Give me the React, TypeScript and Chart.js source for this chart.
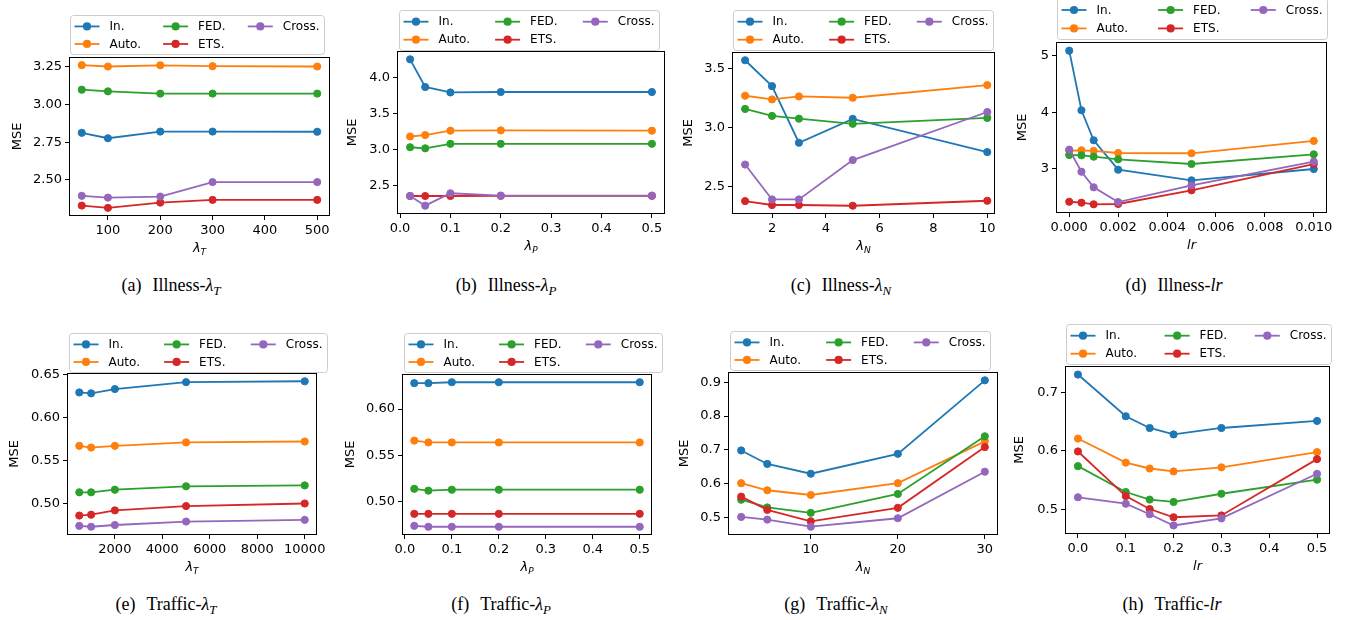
import React, { useEffect, useRef } from "react";
import { Chart, registerables } from "chart.js";

Chart.register(...registerables);
Chart.defaults.font.family = '"DejaVu Sans", sans-serif';
Chart.defaults.font.size = 13;
Chart.defaults.color = "#000";

// ---------- shared ----------
const SERIES_NAMES = ["In.", "Auto.", "FED.", "ETS.", "Cross."];
const SERIES_COLORS = ["#1f77b4", "#ff7f0e", "#2ca02c", "#d62728", "#9467bd"];

// ---------- (a) Illness - lambda_T ----------
const illTX = [50, 100, 200, 300, 500];
const illT_In = [2.813, 2.777, 2.821, 2.821, 2.82];
const illT_Auto = [3.262, 3.253, 3.261, 3.255, 3.253];
const illT_FED = [3.099, 3.088, 3.073, 3.073, 3.073];
const illT_ETS = [2.33, 2.315, 2.35, 2.368, 2.368];
const illT_Cross = [2.395, 2.383, 2.39, 2.486, 2.486];
const illT_xTicks = ["100", "200", "300", "400", "500"];
const illT_yTicks = ["2.50", "2.75", "3.00", "3.25"];

// ---------- (b) Illness - lambda_P ----------
const illPX = [0.02, 0.05, 0.1, 0.2, 0.5];
const illP_In = [4.256, 3.87, 3.794, 3.8, 3.8];
const illP_Auto = [3.18, 3.2, 3.261, 3.265, 3.261];
const illP_FED = [3.03, 3.015, 3.078, 3.078, 3.078];
const illP_ETS = [2.35, 2.35, 2.35, 2.352, 2.352];
const illP_Cross = [2.35, 2.215, 2.388, 2.356, 2.356];
const illP_xTicks = ["0.0", "0.1", "0.2", "0.3", "0.4", "0.5"];
const illP_yTicks = ["2.5", "3.0", "3.5", "4.0"];

// ---------- (c) Illness - lambda_N ----------
const illNX = [1, 2, 3, 5, 10];
const illN_In = [3.567, 3.349, 2.872, 3.073, 2.793];
const illN_Auto = [3.268, 3.237, 3.262, 3.251, 3.358];
const illN_FED = [3.157, 3.098, 3.075, 3.031, 3.081];
const illN_ETS = [2.38, 2.347, 2.347, 2.341, 2.383];
const illN_Cross = [2.688, 2.394, 2.394, 2.726, 3.131];
const illN_xTicks = ["2", "4", "6", "8", "10"];
const illN_yTicks = ["2.5", "3.0", "3.5"];

// ---------- (d) Illness - lr ----------
const illLrX = [0, 0.0005, 0.001, 0.002, 0.005, 0.01];
const illLr_In = [5.094, 4.034, 3.5, 2.977, 2.788, 2.989];
const illLr_Auto = [3.315, 3.322, 3.31, 3.274, 3.269, 3.488];
const illLr_FED = [3.238, 3.233, 3.208, 3.162, 3.078, 3.25];
const illLr_ETS = [2.407, 2.39, 2.361, 2.367, 2.61, 3.078];
const illLr_Cross = [3.333, 2.941, 2.664, 2.402, 2.7, 3.12];
const illLr_xTicks = ["0.000", "0.002", "0.004", "0.006", "0.008", "0.010"];
const illLr_yTicks = ["3", "4", "5"];

// ---------- (e) Traffic - lambda_T ----------
const trTX = [500, 1000, 2000, 5000, 10000];
const trT_In = [0.629, 0.628, 0.633, 0.641, 0.642];
const trT_Auto = [0.567, 0.565, 0.567, 0.571, 0.572];
const trT_FED = [0.513, 0.513, 0.516, 0.52, 0.521];
const trT_ETS = [0.486, 0.487, 0.492, 0.497, 0.5];
const trT_Cross = [0.474, 0.473, 0.475, 0.479, 0.481];
const trT_xTicks = ["2000", "4000", "6000", "8000", "10000"];
const trT_yTicks = ["0.50", "0.55", "0.60", "0.65"];

// ---------- (f) Traffic - lambda_P ----------
const trPX = [0.02, 0.05, 0.1, 0.2, 0.5];
const trP_In = [0.628, 0.628, 0.629, 0.629, 0.629];
const trP_Auto = [0.566, 0.564, 0.564, 0.564, 0.564];
const trP_FED = [0.514, 0.512, 0.513, 0.513, 0.513];
const trP_ETS = [0.487, 0.487, 0.487, 0.487, 0.487];
const trP_Cross = [0.474, 0.473, 0.473, 0.473, 0.473];
const trP_xTicks = ["0.0", "0.1", "0.2", "0.3", "0.4", "0.5"];
const trP_yTicks = ["0.50", "0.55", "0.60"];

// ---------- (g) Traffic - lambda_N ----------
const trNX = [2, 5, 10, 20, 30];
const trN_In = [0.698, 0.658, 0.629, 0.688, 0.906];
const trN_Auto = [0.601, 0.58, 0.566, 0.601, 0.725];
const trN_FED = [0.552, 0.529, 0.513, 0.569, 0.74];
const trN_ETS = [0.561, 0.522, 0.488, 0.528, 0.708];
const trN_Cross = [0.501, 0.493, 0.472, 0.497, 0.635];
const trN_xTicks = ["10", "20", "30"];
const trN_yTicks = ["0.5", "0.6", "0.7", "0.8", "0.9"];

// ---------- (h) Traffic - lr ----------
const trLrX = [0, 0.1, 0.15, 0.2, 0.3, 0.5];
const trLr_In = [0.73, 0.659, 0.639, 0.628, 0.639, 0.651];
const trLr_Auto = [0.621, 0.58, 0.57, 0.565, 0.572, 0.598];
const trLr_FED = [0.574, 0.53, 0.517, 0.513, 0.527, 0.551];
const trLr_ETS = [0.599, 0.523, 0.501, 0.487, 0.49, 0.586];
const trLr_Cross = [0.521, 0.51, 0.492, 0.473, 0.485, 0.561];
const trLr_xTicks = ["0.0", "0.1", "0.2", "0.3", "0.4", "0.5"];
const trLr_yTicks = ["0.5", "0.6", "0.7"];

type Panel = {
  tag: string;
  dataset: string;
  sym: string;
  sub: string;
  xs: number[];
  series: number[][];
  xTicks: string[];
  yTicks: string[];
  frame: number[]; // left, top, right, bottom (page px)
  legend: number[]; // x, y, w, h
  yLabelOff: number;
  capX: number;
  capY: number;
  xRange?: number[];
};

const PANELS: Panel[] = [
  {
    tag: "a", dataset: "Illness", sym: "λ", sub: "T", xs: illTX,
    series: [illT_In, illT_Auto, illT_FED, illT_ETS, illT_Cross],
    xTicks: illT_xTicks, yTicks: illT_yTicks,
    frame: [70, 58, 329, 215], legend: [70, 15, 254, 39], yLabelOff: 52, capX: 171, capY: 285,
  },
  {
    tag: "b", dataset: "Illness", sym: "λ", sub: "P", xs: illPX,
    series: [illP_In, illP_Auto, illP_FED, illP_ETS, illP_Cross],
    xTicks: illP_xTicks, yTicks: illP_yTicks,
    frame: [398, 52, 664, 213], legend: [399, 10, 260, 40], yLabelOff: 45, capX: 506, capY: 285,
  },
  {
    tag: "c", dataset: "Illness", sym: "λ", sub: "N", xs: illNX,
    series: [illN_In, illN_Auto, illN_FED, illN_ETS, illN_Cross],
    xTicks: illN_xTicks, yTicks: illN_yTicks,
    frame: [733, 53, 994, 213], legend: [733, 10, 260, 40], yLabelOff: 44, capX: 841, capY: 285,
    xRange: [0.55, 10.25],
  },
  {
    tag: "d", dataset: "Illness", sym: "lr", sub: "", xs: illLrX,
    series: [illLr_In, illLr_Auto, illLr_FED, illLr_ETS, illLr_Cross],
    xTicks: illLr_xTicks, yTicks: illLr_yTicks,
    frame: [1057, 43, 1326, 212], legend: [1057, -2, 270, 41], yLabelOff: 34, capX: 1174, capY: 285,
  },
  {
    tag: "e", dataset: "Traffic", sym: "λ", sub: "T", xs: trTX,
    series: [trT_In, trT_Auto, trT_FED, trT_ETS, trT_Cross],
    xTicks: trT_xTicks, yTicks: trT_yTicks,
    frame: [68, 374, 316, 534], legend: [69, 333, 258, 39], yLabelOff: 53, capX: 166, capY: 604,
  },
  {
    tag: "f", dataset: "Traffic", sym: "λ", sub: "P", xs: trPX,
    series: [trP_In, trP_Auto, trP_FED, trP_ETS, trP_Cross],
    xTicks: trP_xTicks, yTicks: trP_yTicks,
    frame: [403, 375, 651, 534], legend: [404, 333, 258, 39], yLabelOff: 52, capX: 501, capY: 604,
  },
  {
    tag: "g", dataset: "Traffic", sym: "λ", sub: "N", xs: trNX,
    series: [trN_In, trN_Auto, trN_FED, trN_ETS, trN_Cross],
    xTicks: trN_xTicks, yTicks: trN_yTicks,
    frame: [729, 373, 997, 534], legend: [730, 331, 260, 39], yLabelOff: 44, capX: 836, capY: 604,
  },
  {
    tag: "h", dataset: "Traffic", sym: "lr", sub: "", xs: trLrX,
    series: [trLr_In, trLr_Auto, trLr_FED, trLr_ETS, trLr_Cross],
    xTicks: trLr_xTicks, yTicks: trLr_yTicks,
    frame: [1066, 367, 1329, 533], legend: [1066, 324, 265, 40], yLabelOff: 46, capX: 1172, capY: 604,
  },
];

const Y_AXIS_W = 50;
const X_AXIS_H = 30;
const MARKER_R = 3.6;

function canvasRect(p: Panel) {
  const [fl, ft, fr, fb] = p.frame;
  const [lx, ly, lw] = p.legend;
  const cl = fl - 75;
  const ct = Math.max(0, Math.min(ly, ft) - 4);
  const cr = Math.max(fr, lx + lw) + 32;
  const cb = fb + 55;
  return { cl, ct, cw: cr - cl, ch: cb - ct };
}

function margins(vals: number[]) {
  const mn = Math.min(...vals);
  const mx = Math.max(...vals);
  const d = (mx - mn) * 0.05;
  return [mn - d, mx + d];
}

function labelFor(list: string[]) {
  return (v: any) => {
    const n = Number(v);
    const hit = list.find((s) => Math.abs(parseFloat(s) - n) < 1e-9);
    return hit === undefined ? "" : hit;
  };
}

function drawLegend(ctx: CanvasRenderingContext2D, bx: number, by: number, bw: number, bh: number) {
  ctx.save();
  const r = 3;
  ctx.beginPath();
  ctx.moveTo(bx + r, by);
  ctx.lineTo(bx + bw - r, by);
  ctx.arcTo(bx + bw, by, bx + bw, by + r, r);
  ctx.lineTo(bx + bw, by + bh - r);
  ctx.arcTo(bx + bw, by + bh, bx + bw - r, by + bh, r);
  ctx.lineTo(bx + r, by + bh);
  ctx.arcTo(bx, by + bh, bx, by + bh - r, r);
  ctx.lineTo(bx, by + r);
  ctx.arcTo(bx, by, bx + r, by, r);
  ctx.closePath();
  ctx.fillStyle = "rgba(255,255,255,0.8)";
  ctx.fill();
  ctx.strokeStyle = "#cccccc";
  ctx.lineWidth = 1;
  ctx.stroke();

  ctx.font = '12px "DejaVu Sans"';
  const cols = [[0, 1], [2, 3], [4]];
  const handle = 25;
  const gap = 10;
  const padL = 4;
  const padR = 5;
  const colW = cols.map((c) => Math.max(...c.map((i) => ctx.measureText(SERIES_NAMES[i]).width)));
  const used = colW.reduce((s, v) => s + handle + gap + v, 0);
  const spacing = (bw - padL - padR - used) / 2;
  const rows = [by + bh * 0.28, by + bh * 0.73];
  let cx = bx + padL;
  cols.forEach((c, ci) => {
    c.forEach((si, ri) => {
      const ry = rows[ri];
      ctx.strokeStyle = SERIES_COLORS[si];
      ctx.lineWidth = 1.8;
      ctx.beginPath();
      ctx.moveTo(cx, ry);
      ctx.lineTo(cx + handle, ry);
      ctx.stroke();
      ctx.fillStyle = SERIES_COLORS[si];
      ctx.beginPath();
      ctx.arc(cx + handle / 2, ry, MARKER_R + 0.5, 0, Math.PI * 2);
      ctx.fill();
      ctx.fillStyle = "#000";
      ctx.textAlign = "left";
      ctx.textBaseline = "middle";
      ctx.fillText(SERIES_NAMES[si], cx + handle + gap, ry + 0.5);
    });
    cx += handle + gap + colW[ci] + spacing;
  });
  ctx.restore();
}

function PanelChart({ p }: { p: Panel }) {
  const ref = useRef<HTMLCanvasElement | null>(null);
  const { cl, ct, cw, ch } = canvasRect(p);

  useEffect(() => {
    const canvas = ref.current;
    if (!canvas) return;
    const [fl, ft, fr, fb] = p.frame;
    const [xmin, xmax] = p.xRange ? p.xRange : margins(p.xs);
    const [ymin, ymax] = margins(p.series.flat());
    const xTickVals = p.xTicks.map(parseFloat);
    const yTickVals = p.yTicks.map(parseFloat);

    const decor = {
      id: "decor",
      afterDatasetsDraw(chart: any) {
        const { ctx, chartArea: a } = chart;
        ctx.save();
        ctx.strokeStyle = "#000";
        ctx.lineWidth = 1;
        ctx.strokeRect(Math.round(a.left) - 0.5, Math.round(a.top) - 0.5, Math.round(a.right - a.left) + 1, Math.round(a.bottom - a.top) + 1);
        ctx.restore();
      },
      afterDraw(chart: any) {
        const { ctx, chartArea: a } = chart;
        const [lx, ly, lw, lh] = p.legend;
        drawLegend(ctx, lx - cl + 0.5, ly - ct + 0.5, lw, lh);
        ctx.save();
        ctx.fillStyle = "#000";
        // y label
        ctx.translate(a.left - p.yLabelOff, (a.top + a.bottom) / 2);
        ctx.rotate(-Math.PI / 2);
        ctx.font = '13px "DejaVu Sans"';
        ctx.textAlign = "center";
        ctx.textBaseline = "middle";
        ctx.fillText("MSE", 0, 0);
        ctx.restore();
        // x label
        ctx.save();
        ctx.fillStyle = "#000";
        ctx.textAlign = "left";
        ctx.textBaseline = "alphabetic";
        const mainFont = 'italic 13px "DejaVu Sans"';
        const subFont = 'italic 9px "DejaVu Sans"';
        ctx.font = mainFont;
        const wm = ctx.measureText(p.sym).width;
        ctx.font = subFont;
        const ws = p.sub ? ctx.measureText(p.sub).width : 0;
        const x0 = (a.left + a.right) / 2 - (wm + ws) / 2;
        const by = a.bottom + 37;
        ctx.font = mainFont;
        ctx.fillText(p.sym, x0, by);
        if (p.sub) {
          ctx.font = subFont;
          ctx.fillText(p.sub, x0 + wm, by + 3);
        }
        ctx.restore();
      },
    };

    const axisCommon = {
      type: "linear" as const,
      grid: { display: true, drawOnChartArea: false, drawTicks: true, tickLength: 5, color: "#000", lineWidth: 1 },
      border: { display: false },
    };

    const chart = new Chart(canvas, {
      type: "line",
      data: {
        datasets: p.series.map((ys, i) => ({
          label: SERIES_NAMES[i],
          data: p.xs.map((x, j) => ({ x, y: ys[j] })),
          borderColor: SERIES_COLORS[i],
          backgroundColor: SERIES_COLORS[i],
          pointBackgroundColor: SERIES_COLORS[i],
          pointBorderColor: SERIES_COLORS[i],
          pointRadius: MARKER_R,
          pointBorderWidth: 1,
          borderWidth: 1.8,
          tension: 0,
          order: SERIES_NAMES.length - 1 - i,
          clip: false as any,
        })),
      },
      options: {
        responsive: false,
        animation: false,
        events: [],
        layout: {
          padding: {
            left: fl - cl - Y_AXIS_W,
            top: ft - ct,
            right: cl + cw - fr,
            bottom: ct + ch - fb - X_AXIS_H,
          },
        },
        plugins: { legend: { display: false }, tooltip: { enabled: false }, title: { display: false } },
        scales: {
          x: {
            ...axisCommon,
            position: "bottom",
            min: xmin,
            max: xmax,
            afterBuildTicks: (s: any) => {
              s.ticks = xTickVals.map((v) => ({ value: v }));
            },
            afterFit: (s: any) => {
              s.height = X_AXIS_H;
            },
            ticks: { autoSkip: false, maxRotation: 0, minRotation: 0, padding: 3, color: "#000", font: { size: 13 }, callback: labelFor(p.xTicks) },
          },
          y: {
            ...axisCommon,
            position: "left",
            min: ymin,
            max: ymax,
            afterBuildTicks: (s: any) => {
              s.ticks = yTickVals.map((v) => ({ value: v }));
            },
            afterFit: (s: any) => {
              s.width = Y_AXIS_W;
            },
            ticks: { autoSkip: false, padding: 3, color: "#000", font: { size: 13 }, callback: labelFor(p.yTicks) },
          },
        },
      } as any,
      plugins: [decor],
    });
    return () => chart.destroy();
  }, []);

  return (
    <canvas
      ref={ref}
      width={cw}
      height={ch}
      style={{ position: "absolute", left: cl, top: ct, width: cw, height: ch }}
    />
  );
}

function Caption({ p }: { p: Panel }) {
  return (
    <div
      style={{
        position: "absolute",
        left: p.capX - 150,
        top: p.capY - 11,
        width: 300,
        textAlign: "center",
        fontFamily: '"Liberation Serif", serif',
        fontSize: 18,
        lineHeight: "22px",
        whiteSpace: "nowrap",
        color: "#000",
      }}
    >
      ({p.tag})<span style={{ display: "inline-block", width: 11 }} />
      {p.dataset}-<i>{p.sym}</i>
      {p.sub ? (
        <sub style={{ fontSize: "0.72em", fontStyle: "italic", verticalAlign: "-0.3em", lineHeight: 0 }}>{p.sub}</sub>
      ) : null}
    </div>
  );
}

export default function App() {
  return (
    <div style={{ position: "absolute", left: 0, top: 0, width: 1348, height: 620, background: "#fff", overflow: "hidden" }}>
      {PANELS.map((p) => (
        <PanelChart key={p.tag} p={p} />
      ))}
      {PANELS.map((p) => (
        <Caption key={"c" + p.tag} p={p} />
      ))}
    </div>
  );
}
